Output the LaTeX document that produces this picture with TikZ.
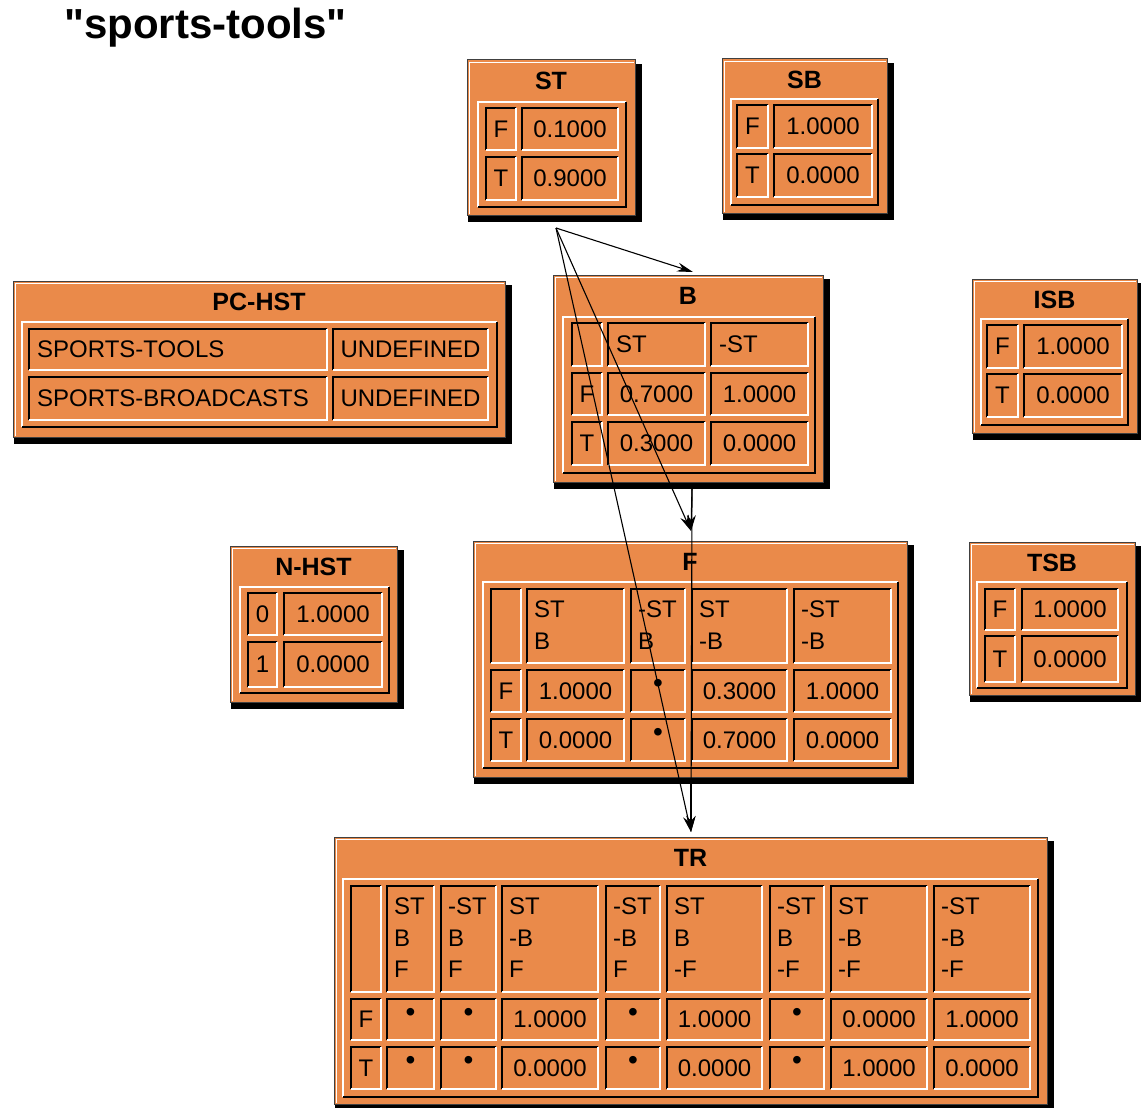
\documentclass[tikz,border=0pt]{standalone}
\usepackage{fontspec}
\setmainfont{Liberation Sans}
\newfontfamily\titlefont{Liberation Sans}[Ligatures=TeXOff]
\usetikzlibrary{arrows.meta}
\definecolor{boxorange}{RGB}{234,138,74}
\tikzset{
  x=1pt,y=-1pt,
  boxbody/.style={draw=black!75, line width=1pt, fill=boxorange, inner sep=0pt, outer sep=0pt},
  hilite/.style={draw=white, line width=1.5pt},
  framedark/.style={draw=black, line width=1.6pt},
  celldark/.style={draw=black, line width=2.4pt},
  celllight/.style={draw=white, line width=1.8pt},
  celltext/.style={inner sep=0pt, font=\fontsize{24}{31.5}\selectfont},
  titletext/.style={inner sep=0pt, font=\fontsize{25}{30}\selectfont\bfseries},
  link/.style={draw=black, line width=1.1pt, -{Stealth[length=16pt,width=9pt]}},
}
\newcommand\netbox[6]{%
  \fill[black] (#2+1,#3+4) rectangle (#4+7,#5+7);
  \node[boxbody, minimum width={#4-#2}, minimum height={#5-#3}] (#1) at ({(#2+#4)/2},{(#3+#5)/2}) {};
  \draw[hilite] (#2+2.5,#5-1) -- (#2+2.5,#3+2.5) -- (#4-1,#3+2.5);
  \node[titletext] (#1-title) at ({(#2+#4)/2},#3+21) {#6};
}
\newcommand\frameb[4]{%
  \draw[hilite] (#1,#4) -- (#1,#2) -- (#3,#2);
  \draw[framedark] (#1,#4) -- (#3,#4) -- (#3,#2);
}
\newcommand\cellb[4]{%
  \draw[celldark] (#1,#4) -- (#1,#2) -- (#3,#2);
  \draw[celllight] (#1,#4) -- (#3,#4) -- (#3,#2);
}
\newcommand\cellc[5]{\cellb{#1}{#2}{#3}{#4}\node[celltext] at ({(#1+#3)/2},{(#2+#4)/2}) {#5};}
\newcommand\cellh[5]{\cellb{#1}{#2}{#3}{#4}\node[celltext,anchor=north west,align=left] at (#1+7,#2+12) {#5};}
\newcommand\cellw[5]{\cellb{#1}{#2}{#3}{#4}\node[celltext,anchor=west] at (#1+8,{(#2+#4)/2}) {#5};}
\newcommand\celldot[4]{\cellb{#1}{#2}{#3}{#4}\node[inner sep=0pt,font=\fontsize{28}{28}\selectfont] at ({(#1+#3)/2},{(#2+#4)/2-5}) {•};}
\begin{document}
\begin{tikzpicture}
\fill[white] (0,0) rectangle (1141,1108);
\useasboundingbox (0,0) rectangle (1141,1108);

\node[inner sep=0pt, anchor=base west, font=\titlefont\fontsize{42}{42}\selectfont\bfseries] (title) at (64,39) {"sports-tools"};

% ST
\netbox{ST}{467}{60}{635}{215}{ST}
\frameb{478}{102}{626}{207}
\cellc{486}{108}{516}{150}{F}
\cellc{522}{108}{618}{150}{0.1000}
\cellc{486}{157}{516}{200}{T}
\cellc{522}{157}{618}{200}{0.9000}

% SB
\netbox{SB}{722}{59}{887}{213}{SB}
\frameb{731}{99}{878}{205}
\cellc{737}{105}{768}{148}{F}
\cellc{774}{105}{872}{148}{1.0000}
\cellc{737}{154}{768}{197}{T}
\cellc{774}{154}{872}{197}{0.0000}

% ISB
\netbox{ISB}{972}{279}{1137}{433}{ISB}
\frameb{981}{319}{1128}{425}
\cellc{987}{325}{1018}{368}{F}
\cellc{1024}{325}{1122}{368}{1.0000}
\cellc{987}{374}{1018}{417}{T}
\cellc{1024}{374}{1122}{417}{0.0000}

% TSB
\netbox{TSB}{969}{542}{1135}{695}{TSB}
\frameb{977}{582}{1127}{688}
\cellc{985}{589}{1015}{630}{F}
\cellc{1022}{589}{1118}{630}{1.0000}
\cellc{985}{636}{1015}{682}{T}
\cellc{1022}{636}{1118}{682}{0.0000}

% N-HST
\netbox{NHST}{230}{546}{397}{702}{N-HST}
\frameb{240}{587}{389}{693}
\cellc{248}{593}{277}{635}{0}
\cellc{284}{593}{382}{635}{1.0000}
\cellc{248}{642}{277}{687}{1}
\cellc{284}{642}{382}{687}{0.0000}

% PC-HST
\netbox{PCHST}{13}{281}{505}{437}{PC-HST}
\frameb{22}{322}{497}{427}
\cellw{29}{329}{327}{370}{SPORTS-TOOLS}
\cellc{333}{329}{488}{370}{UNDEFINED}
\cellw{29}{377}{327}{420}{SPORTS-BROADCASTS}
\cellc{333}{377}{488}{420}{UNDEFINED}

% B
\netbox{B}{553}{275}{823}{482}{B}
\frameb{563}{317}{815}{473}
\cellb{572}{323}{602}{366}
\cellw{608}{323}{705}{366}{ST}
\cellw{711}{323}{808}{366}{-ST}
\cellc{572}{373}{602}{415}{F}
\cellc{608}{373}{705}{415}{0.7000}
\cellc{711}{373}{808}{415}{1.0000}
\cellc{572}{422}{602}{465}{T}
\cellc{608}{422}{705}{465}{0.3000}
\cellc{711}{422}{808}{465}{0.0000}

% F
\netbox{F}{473}{541}{907}{777}{F}
\frameb{483}{582}{898}{768}
\cellb{491}{589}{521}{663}
\cellh{527}{589}{624}{663}{ST\\B}
\cellh{631}{589}{685}{663}{-ST\\B}
\cellh{692}{589}{787}{663}{ST\\-B}
\cellh{794}{589}{891}{663}{-ST\\-B}
\cellc{491}{670}{521}{712}{F}
\cellc{527}{670}{624}{712}{1.0000}
\celldot{631}{670}{685}{712}
\cellc{692}{670}{787}{712}{0.3000}
\cellc{794}{670}{891}{712}{1.0000}
\cellc{491}{719}{521}{761}{T}
\cellc{527}{719}{624}{761}{0.0000}
\celldot{631}{719}{685}{761}
\cellc{692}{719}{787}{761}{0.7000}
\cellc{794}{719}{891}{761}{0.0000}

% TR
\netbox{TR}{334}{837}{1047}{1104}{TR}
\frameb{343}{879}{1038}{1097}
\cellb{351}{886}{381}{992}
\cellh{387}{886}{434}{992}{ST\\B\\F}
\cellh{441}{886}{496}{992}{-ST\\B\\F}
\cellh{502}{886}{598}{992}{ST\\-B\\F}
\cellh{606}{886}{660}{992}{-ST\\-B\\F}
\cellh{667}{886}{762}{992}{ST\\B\\-F}
\cellh{770}{886}{824}{992}{-ST\\B\\-F}
\cellh{831}{886}{927}{992}{ST\\-B\\-F}
\cellh{934}{886}{1030}{992}{-ST\\-B\\-F}
\cellc{351}{999}{381}{1040}{F}
\celldot{387}{999}{434}{1040}
\celldot{441}{999}{496}{1040}
\cellc{502}{999}{598}{1040}{1.0000}
\celldot{606}{999}{660}{1040}
\cellc{667}{999}{762}{1040}{1.0000}
\celldot{770}{999}{824}{1040}
\cellc{831}{999}{927}{1040}{0.0000}
\cellc{934}{999}{1030}{1040}{1.0000}
\cellc{351}{1047}{381}{1089}{T}
\celldot{387}{1047}{434}{1089}
\celldot{441}{1047}{496}{1089}
\cellc{502}{1047}{598}{1089}{0.0000}
\celldot{606}{1047}{660}{1089}
\cellc{667}{1047}{762}{1089}{0.0000}
\celldot{770}{1047}{824}{1089}
\cellc{831}{1047}{927}{1089}{1.0000}
\cellc{934}{1047}{1030}{1089}{0.0000}

% ports
\coordinate (ST-out) at ([shift={(5,13)}]ST.south);
\coordinate (B-in) at ([shift={(5,-3)}]B.north);
\coordinate (B-out) at ([shift={(4,6)}]B.south);
\coordinate (F-in) at ([shift={(1,-10)}]F.north);
\coordinate (F-out) at ([shift={(1,7)}]F.south);
\coordinate (TR-in) at ([shift={(0.5,-5)}]TR.north);

% links
\draw[link] (ST-out) -- (B-in);
\draw[link] (ST-out) -- (F-in);
\draw[link] (ST-out) -- (TR-in);
\draw[link] (B-out) -- (F-in);
\draw[link] (B-out) -- (TR-in);
\draw[link] (F-out) -- (TR-in);
\end{tikzpicture}
\end{document}
